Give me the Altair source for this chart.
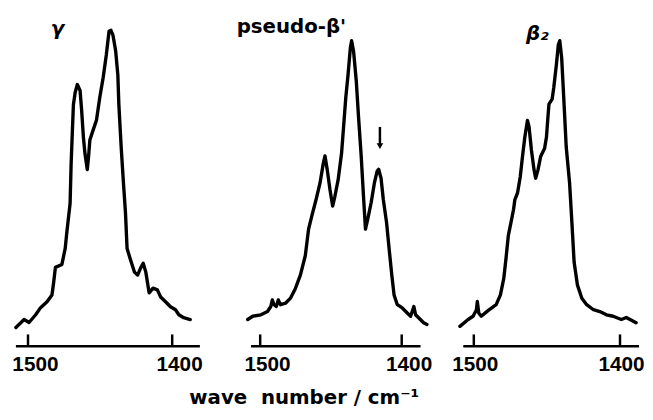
import altair as alt
import pandas as pd

# ---- data (wavenumber in cm-1, relative intensity) ----
gamma_wn = [1508.4, 1502.7, 1499.3, 1494.7, 1491.3, 1486.8, 1483.4, 1482.2, 1481.0, 1476.5,
            1474.2, 1473.1, 1470.8, 1470.1, 1469.2, 1468.5, 1467.3, 1465.8, 1463.9, 1462.8,
            1461.6, 1460.5, 1458.9, 1458.0, 1457.1, 1454.8, 1452.5, 1450.2, 1447.9, 1445.7,
            1443.8, 1442.5, 1441.1, 1439.2, 1437.7, 1437.0, 1435.4, 1433.8, 1432.4, 1431.3,
            1429.2, 1426.2, 1424.0, 1421.7, 1420.1, 1418.3, 1416.0, 1413.3, 1410.3, 1408.0,
            1404.6, 1401.2, 1397.7, 1395.4, 1392.0, 1387.5]
gamma_int = [0.0, 2.7, 1.7, 4.3, 6.7, 8.7, 11.0, 15.3, 20.3, 21.3,
             26.7, 32.0, 42.0, 55.3, 66.7, 75.3, 79.3, 82.0, 80.0, 73.3,
             64.3, 58.7, 53.3, 57.7, 63.3, 66.7, 70.0, 77.7, 84.3, 92.0,
             100.0, 100.3, 98.7, 93.3, 85.3, 75.3, 61.0, 48.7, 38.7, 26.7,
             23.3, 18.7, 17.7, 20.3, 21.7, 18.7, 11.7, 13.3, 12.7, 10.3,
             8.7, 7.0, 6.0, 4.3, 3.3, 2.7]

pseudo_wn = [1508.8, 1505.3, 1499.5, 1494.8, 1492.5, 1491.4, 1490.2, 1488.6, 1487.2, 1485.6,
             1482.1, 1478.6, 1475.1, 1471.6, 1468.1, 1465.8, 1463.5, 1460.5, 1457.7, 1455.4,
             1454.2, 1452.6, 1450.7, 1448.8, 1447.2, 1444.9, 1442.5, 1440.9, 1439.5, 1437.9,
             1436.3, 1435.4, 1434.0, 1432.1, 1430.5, 1428.6, 1427.0, 1425.6, 1424.0, 1421.6,
             1419.3, 1417.4, 1416.3, 1414.6, 1413.0, 1410.7, 1408.9, 1407.0, 1405.4, 1403.1,
             1399.6, 1396.1, 1393.7, 1391.4, 1390.2, 1387.9, 1384.5, 1382.2]
pseudo_int = [2.7, 3.8, 4.3, 5.4, 7.1, 9.3, 7.7, 7.1, 9.3, 7.7,
              8.2, 9.9, 13.2, 17.7, 24.3, 33.2, 37.7, 43.2, 48.8, 55.4,
              57.9, 53.2, 46.6, 41.0, 44.3, 49.9, 58.8, 68.8, 77.7, 85.4,
              94.3, 96.8, 93.2, 83.2, 71.0, 57.7, 44.3, 33.2, 36.6, 42.1,
              48.8, 52.7, 53.4, 50.4, 43.2, 35.4, 26.6, 17.7, 11.0, 7.7,
              6.6, 4.9, 3.8, 7.1, 4.3, 3.2, 1.6, 1.0]

beta2_wn = [1509.5, 1503.9, 1500.5, 1498.2, 1497.6, 1496.6, 1494.9, 1490.3, 1484.7, 1481.8,
            1479.5, 1478.0, 1476.4, 1474.6, 1472.8, 1471.9, 1470.1, 1468.2, 1466.7, 1465.1,
            1463.3, 1462.2, 1460.6, 1458.8, 1457.7, 1456.1, 1454.3, 1451.6, 1450.3, 1449.3,
            1448.6, 1446.4, 1445.3, 1443.5, 1442.2, 1441.2, 1439.9, 1438.5, 1436.8, 1434.5,
            1432.9, 1431.4, 1429.1, 1426.1, 1422.8, 1418.2, 1413.8, 1409.3, 1404.7, 1399.1,
            1395.7, 1389.0]
beta2_int = [0.4, 2.7, 3.8, 6.0, 8.8, 4.9, 3.8, 5.7, 7.7, 11.0,
             16.6, 23.2, 31.0, 35.4, 39.9, 43.2, 45.4, 51.0, 57.7, 64.3,
             69.9, 67.7, 59.9, 53.2, 50.4, 53.2, 57.7, 60.4, 64.3, 71.0,
             75.4, 77.1, 81.0, 88.8, 95.4, 96.8, 91.0, 77.7, 61.0, 48.8,
             35.4, 22.1, 14.3, 9.9, 7.7, 6.0, 5.4, 4.3, 3.8, 2.7,
             3.4, 1.6]

tick_values = [1500, 1400]
axis_spans = [[1508.4, 1380.8], [1506.5, 1386.7], [1507.2, 1387.0]]
panel_titles = ["γ", "pseudo-β'", "β₂"]
arrow_wn = [1415.4]
arrow_top = [67.7]
arrow_tip = [61.2]
x_title = "wave\u00a0 number / cm⁻¹"

# ---- layout / style ----
H = 344
Y_DOM = [-6.33, 108.33]
LABEL_FONT = "Liberation Sans"
TEXT_FONT = "DejaVu Sans"


def xenc(dom, off, field="wn"):
    return alt.X(
        f"{field}:Q",
        scale=alt.Scale(domain=dom, reverse=True, nice=False, zero=False),
        axis=alt.Axis(values=tick_values, format="d", title=None, grid=False,
                      domain=False, ticks=False, labelPadding=8, labelOffset=off,
                      labelFont=LABEL_FONT, labelFontSize=21, labelFontWeight="bold",
                      labelColor="black", labelFlush=False, labelOverlap=False),
    )


def yenc(field="I"):
    return alt.Y(f"{field}:Q", scale=alt.Scale(domain=Y_DOM, nice=False, zero=False), axis=None)


def panel(wn, inten, dom, off, span, width, title, tx, ty, italic, extra=None):
    df = pd.DataFrame({"wn": wn, "I": inten, "i": list(range(len(wn)))})
    line = alt.Chart(df).mark_line(
        color="black", strokeWidth=3.4, strokeJoin="round", strokeCap="round"
    ).encode(x=xenc(dom, off), y=yenc(), order="i:Q")
    axline = alt.Chart(pd.DataFrame({"wn": [span[0]], "wn2": [span[1]]})).mark_rule(
        color="black", strokeWidth=2.5
    ).encode(x=xenc(dom, off), x2="wn2:Q", y=alt.value(H))
    ticks = alt.Chart(pd.DataFrame({"wn": tick_values})).mark_rule(
        color="black", strokeWidth=2.5
    ).encode(x=xenc(dom, off), y=alt.value(H), y2=alt.value(H - 12))
    ttl = alt.Chart(pd.DataFrame({"t": [title]})).mark_text(
        font=TEXT_FONT, fontSize=20, fontWeight="bold",
        fontStyle="italic" if italic else "normal",
        align="center", baseline="alphabetic", color="black"
    ).encode(text="t:N", x=alt.value(tx), y=alt.value(ty))
    layers = [line, axline, ticks, ttl]
    if extra:
        layers += extra(dom, off)
    return alt.layer(*layers).properties(width=width, height=H)


def arrow_layers(dom, off):
    adf = pd.DataFrame({"wn": arrow_wn, "top": arrow_top, "tip": arrow_tip})
    shaft = alt.Chart(adf).mark_rule(color="black", strokeWidth=2.5).encode(
        x=xenc(dom, off), y=yenc("top"), y2="tip:Q")
    head = alt.Chart(adf).mark_point(
        shape="triangle-down", filled=True, color="black", size=45, opacity=1
    ).encode(x=xenc(dom, off), y=yenc("tip"))
    xt = alt.Chart(pd.DataFrame({"t": [x_title]})).mark_text(
        font=TEXT_FONT, fontSize=20, fontWeight="bold", align="center",
        baseline="alphabetic", color="black"
    ).encode(text="t:N", x=alt.value(63), y=alt.value(402))
    return [shaft, head, xt]


p1 = panel(gamma_wn, gamma_int, [1381.0, 1508.4], 7, axis_spans[0], 186,
           panel_titles[0], 42, 29, True)
p2 = panel(pseudo_wn, pseudo_int, [1386.5, 1512.8], 7, axis_spans[1], 181,
           panel_titles[1], 50, 27, False, extra=arrow_layers)
p3 = panel(beta2_wn, beta2_int, [1386.96, 1507.2], 1, axis_spans[2], 178,
           panel_titles[2], 75, 34, True)

chart = alt.hconcat(p1, p2, p3, spacing=43, bounds="flush").properties(
    padding={"left": 3, "top": -4, "right": 0, "bottom": 0}
).configure(
    background="white", view=alt.ViewConfig(stroke="transparent", strokeWidth=0)
)

chart.save("out.html", embed_options={"renderer": "svg", "actions": False})
